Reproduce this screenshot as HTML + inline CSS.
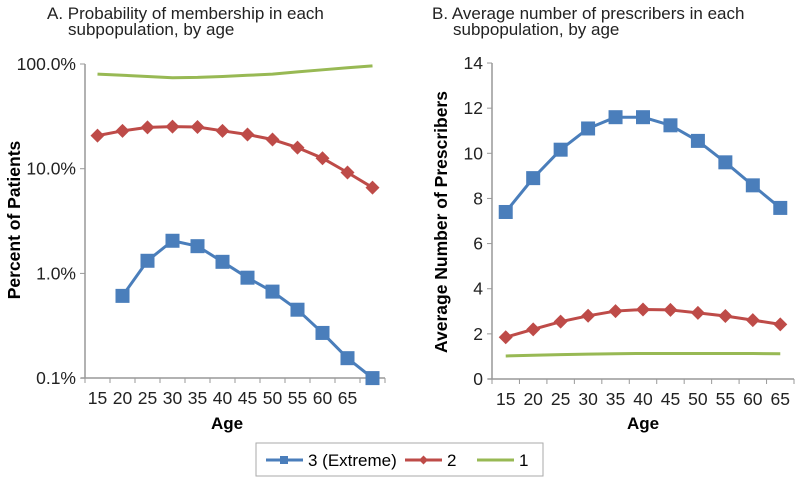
<!DOCTYPE html>
<html><head><meta charset="utf-8"><style>
body{margin:0;background:#fff;width:800px;height:482px;overflow:hidden}
svg{display:block;font-family:"Liberation Sans",Arial,sans-serif}
</style></head><body>
<svg id="c" width="800" height="482" viewBox="0 0 800 482">
<text x="47" y="19" font-size="17" fill="#222">A. Probability of membership in each</text>
<text x="68" y="35" font-size="17" fill="#222">subpopulation, by age</text>
<text x="432" y="19" font-size="17" fill="#222">B. Average number of prescribers in each</text>
<text x="453" y="35" font-size="17" fill="#222">subpopulation, by age</text>
<text transform="translate(20,220) rotate(-90)" text-anchor="middle" font-size="17.5" font-weight="bold">Percent of Patients</text>
<text transform="translate(447,222) rotate(-90)" text-anchor="middle" font-size="17.5" font-weight="bold">Average Number of Prescribers</text>
<text x="227" y="429" text-anchor="middle" font-size="17" font-weight="bold">Age</text>
<text x="643" y="429" text-anchor="middle" font-size="17" font-weight="bold">Age</text>
<g>
<rect x="256" y="443" width="287" height="33" fill="#fff" stroke="#aaa"/>
<g><line x1="266" y1="460" x2="303" y2="460" stroke="#4a7ebb" stroke-width="3"/><rect x="280" y="456" width="8" height="8" fill="#4a7ebb"/><text x="308" y="466" font-size="17">3 (Extreme)</text></g>
<g><line x1="405" y1="460" x2="442" y2="460" stroke="#be4b48" stroke-width="3"/><path d="M423.5 455.5 L428 460 L423.5 464.5 L419 460Z" fill="#be4b48"/><text x="447" y="466" font-size="17">2</text></g>
<g><line x1="477" y1="460" x2="514" y2="460" stroke="#98b954" stroke-width="3"/><text x="519" y="466" font-size="17">1</text></g>
</g>
</svg>
<script>
const agesA=["15","20","25","30","35","40","45","50","55","60","65",""];
const a1=[80,78,76,74,74.5,76,78,80,84,88,92,96];
const a2=[20.7,23,24.8,25.2,25,23,21.2,19,15.9,12.6,9.2,6.6];
const a3=[null,0.61,1.32,2.05,1.82,1.29,0.91,0.67,0.45,0.27,0.155,0.10];
const ticksA=["0.1%","1.0%","10.0%","100.0%"];
const ticksAVals=[0.1,1,10,100];
const agesB=["15","20","25","30","35","40","45","50","55","60","65"];
const b1=[1.02,1.05,1.08,1.1,1.12,1.13,1.13,1.13,1.13,1.13,1.12];
const b2=[1.85,2.2,2.54,2.8,3.01,3.08,3.06,2.93,2.79,2.61,2.42];
const b3=[7.4,8.9,10.16,11.1,11.6,11.6,11.24,10.55,9.6,8.58,7.58];
const ticksB=[0,2,4,6,8,10,12,14];

const svg=document.getElementById('c');
const NS='http://www.w3.org/2000/svg';
function mk(t,at,parent){const e=document.createElementNS(NS,t);for(const k in at)e.setAttribute(k,at[k]);(parent||svg).appendChild(e);return e;}
const BLUE='#4a7ebb',RED='#be4b48',GREEN='#98b954';

function chart(o){
  const g=mk('g',{});
  
  
  const n=o.cats.length, w=(o.x1-o.x0)/n;
  const xs=i=>o.x0+w*(i+0.5);
  const ax=mk('path',{d:`M${o.x0-4} ${o.yb}H${o.x1}M${o.x0} ${o.yt}V${o.yb}`,stroke:'#999',fill:'none','stroke-width':1.5},g);
  
  
  for(let i=0;i<=n;i++){const t=mk('line',{x1:o.x0+w*i,x2:o.x0+w*i,y1:o.yb,y2:o.yb+5,stroke:'#999'},g);
    
    }
  o.cats.forEach((c,i)=>{const t=mk('text',{x:xs(i),y:o.yb+26,'text-anchor':'middle','font-size':17.5,fill:'#222'},g);t.textContent=c;
    
    });
  o.ticks.forEach((v,i)=>{const y=o.ys(v);
    mk('line',{x1:o.x0-5,x2:o.x0,y1:y,y2:y,stroke:'#999'},g);
    const t=mk('text',{x:o.x0-9,y:y+6,'text-anchor':'end','font-size':17.5,fill:'#222'},g);t.textContent=o.tickLabels[i];
    
    });
  o.series.forEach(s=>{
    let d='';s.vals.forEach((v,i)=>{if(v==null)return;d+=(d?'L':'M')+xs(i)+' '+o.ys(v);});
    const p=mk('path',{d,stroke:s.color,'stroke-width':3,fill:'none','stroke-linejoin':'round'},g);
    
    
    s.vals.forEach((v,i)=>{if(v==null)return;const x=xs(i),y=o.ys(v);let m;
      if(s.marker==='sq'){m=mk('rect',{x:x-7,y:y-7,width:14,height:14,fill:s.color},g);}
      else if(s.marker==='dia'){m=mk('path',{d:`M${x} ${y-7}L${x+7} ${y}L${x} ${y+7}L${x-7} ${y}Z`,fill:s.color},g);}
      else return;
      
      });
  });
}
chart({name:'chart-a',cats:agesA,x0:85,x1:385,yt:64,yb:378,
  ys:v=>64+(2-Math.log10(v))*104.7,ticks:ticksAVals,tickLabels:ticksA,
  series:[{id:'group-1',vals:a1,color:GREEN,marker:null},{id:'group-2',vals:a2,color:RED,marker:'dia'},{id:'group-3',vals:a3,color:BLUE,marker:'sq'}]});
chart({name:'chart-b',cats:agesB,x0:492,x1:794,yt:63,yb:379,
  ys:v=>379-v*22.57,ticks:ticksB,tickLabels:ticksB.map(String),
  series:[{id:'group-1',vals:b1,color:GREEN,marker:null},{id:'group-2',vals:b2,color:RED,marker:'dia'},{id:'group-3',vals:b3,color:BLUE,marker:'sq'}]});
</script>
</body></html>
